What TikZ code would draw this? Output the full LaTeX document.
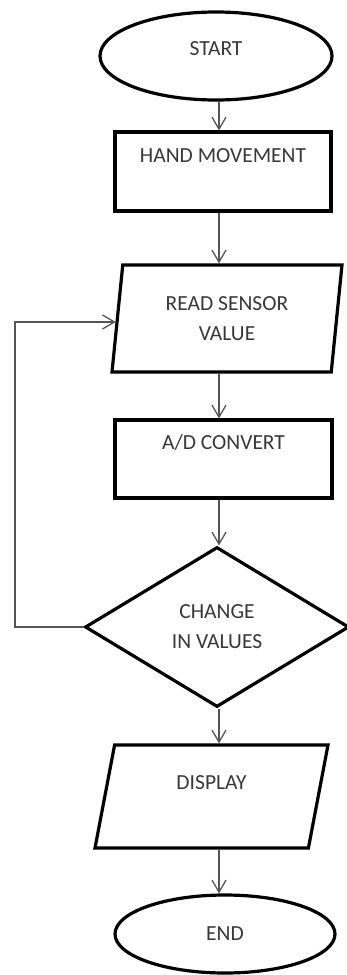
\documentclass[tikz,border=0pt]{standalone}
\usepackage{fontspec}
\setmainfont{Carlito}
\usetikzlibrary{shapes.geometric,arrows.meta}
\definecolor{ink}{HTML}{383838}
\definecolor{wire}{HTML}{555555}
\begin{document}
\begin{tikzpicture}[x=1pt,y=-1pt,
  box/.style={draw=black,line width=3.2pt,fill=white,text=ink,font=\fontsize{21.5}{30}\selectfont,align=center,inner sep=0pt},
  term/.style={box,ellipse},
  proc/.style={box,rectangle},
  io/.style={box,trapezium,trapezium stretches body},
  dec/.style={box,diamond},
  arr/.style={draw=wire,line width=1.3pt,-{Straight Barb[length=12pt,width=14pt]}}
]
\useasboundingbox (0,0) rectangle (346,975);
\node[term,minimum width=232pt,minimum height=88pt,text height=14pt,text depth=16pt] (start) at (216,56) {START};
\node[proc,minimum width=216pt,minimum height=79pt,text height=14pt,text depth=33pt] (hand) at (223,171.5) {HAND MOVEMENT};
\node[io,trapezium left angle=76.3,trapezium right angle=103.7,minimum width=230pt,minimum height=107pt] (read) at (227,318.5) {READ SENSOR\\VALUE};
\node[proc,minimum width=217pt,minimum height=78pt,text height=14pt,text depth=34pt] (adc) at (223.5,459) {A/D CONVERT};
\node[dec,minimum width=264pt,minimum height=160pt] (change) at (217,627) {CHANGE\\IN VALUES};
\node[io,trapezium left angle=65.5,trapezium right angle=114.5,minimum width=233pt,minimum height=103pt,text height=14pt,text depth=29pt] (display) at (211.5,796.5) {DISPLAY};
\node[term,minimum width=220pt,minimum height=78pt] (stop) at (225,934) {END};
\coordinate (spine) at (219,0);
\coordinate (loopx) at (15,0);
\draw[arr] (start.south -| spine) -- (hand.north -| spine);
\draw[arr] (hand.south -| spine) -- (read.north -| spine);
\draw[arr] (read.south -| spine) -- (adc.north -| spine);
\draw[arr] (adc.south -| spine) -- (change.north -| spine);
\draw[arr] (change.south -| spine) -- (display.north -| spine);
\draw[arr] (display.south -| spine) -- (stop.north -| spine);
\draw[arr] (change.west) -- (change.west -| loopx) |- ([yshift=-3.5pt]read.180);
\end{tikzpicture}
\end{document}
